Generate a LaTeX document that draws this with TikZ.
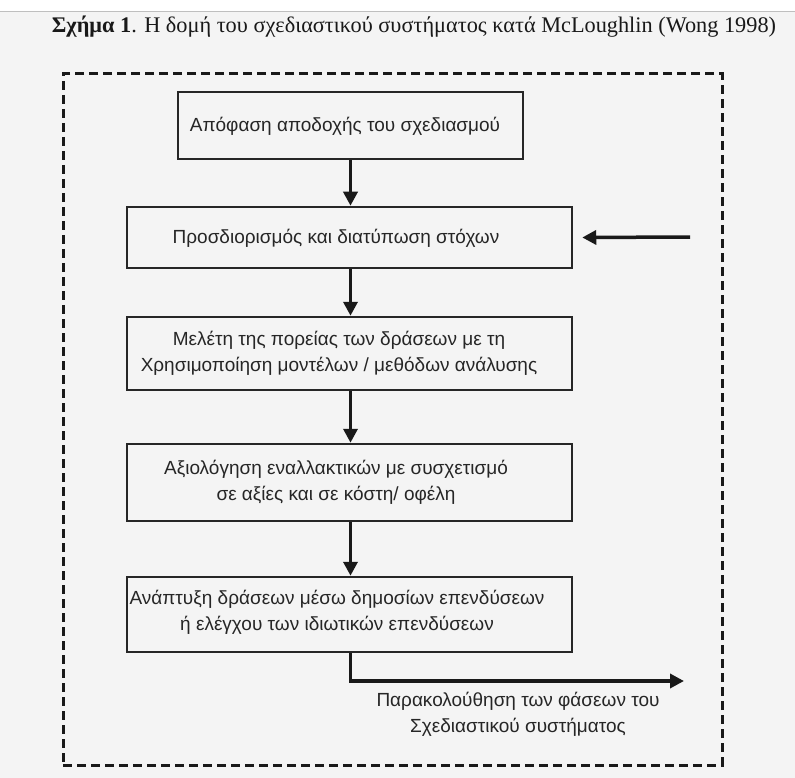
\documentclass[tikz,border=0pt]{standalone}
\usepackage{fontspec}
\setmainfont{Liberation Serif}
\newfontfamily\boxfont{Liberation Sans}
\usetikzlibrary{arrows.meta,calc}
\definecolor{bg}{HTML}{F4F4F4}
\tikzset{
  stepbox/.style={draw=black!85, line width=2.5pt, rectangle, minimum width=445pt, inner sep=0pt},
  boxtext/.style={font=\boxfont\fontsize{19}{26}\selectfont, align=center, text=black!85, inner sep=0pt},
  arr/.style={line width=3.5pt, draw=black!90, -{Triangle[length=14pt,width=14pt]}},
  frame/.style={draw=black!90, line width=3pt, dash pattern=on 9pt off 5pt, rectangle, inner sep=0pt}
}
\begin{document}
\begin{tikzpicture}[x=1pt,y=-1pt]
\useasboundingbox[fill=bg] (0,0) rectangle (795,778);
\fill[white] (0,0) rectangle (795,11);
\draw[black!25, line width=1pt] (0,11.5) -- (795,11.5);
\node[font=\fontsize{22.3}{25}\selectfont, text=black!90] (title) at (414,27) {\textbf{Σχήμα 1}. Η δομή του σχεδιαστικού συστήματος κατά McLoughlin (Wong 1998)};
\node[frame, minimum width=659pt, minimum height=691pt] (fr) at (392.5,419.5) {};
\node[stepbox, minimum width=345pt, minimum height=67pt] (b1) at (350.5,125.5) {};
\node[stepbox, minimum height=61pt] (b2) at (349.5,237.5) {};
\node[stepbox, minimum height=73pt] (b3) at (349.5,353.5) {};
\node[stepbox, minimum height=77pt] (b4) at (349.5,482.5) {};
\node[stepbox, minimum height=75pt] (b5) at (349.5,614.5) {};
\node[boxtext] (t1) at (345,126) {Απόφαση αποδοχής του σχεδιασμού};
\node[boxtext] (t2) at (336,238) {Προσδιορισμός και διατύπωση στόχων};
\node[boxtext] (t3) at (339,353) {Μελέτη της πορείας των δράσεων με τη\\Χρησιμοποίηση μοντέλων / μεθόδων ανάλυσης};
\node[boxtext] (t4) at (336,482) {Αξιολόγηση εναλλακτικών με συσχετισμό\\σε αξίες και σε κόστη/ οφέλη};
\node[boxtext] (t5) at (337,612) {Ανάπτυξη δράσεων μέσω δημοσίων επενδύσεων\\ή ελέγχου των ιδιωτικών επενδύσεων};
\coordinate (src) at (690,237);
\coordinate (out) at (684,681);
\node[boxtext] (t6) at (518,714) {Παρακολούθηση των φάσεων του\\Σχεδιαστικού συστήματος};
\draw[arr] (b1.south) -- (b1.south |- b2.north);
\draw[arr] (b1.south |- b2.south) -- (b1.south |- b3.north);
\draw[arr] (b1.south |- b3.south) -- (b1.south |- b4.north);
\draw[arr] (b1.south |- b4.south) -- (b1.south |- b5.north);
\draw[arr] (src) -- ([xshift=9pt]b2.east);
\draw[arr] (b1.south |- b5.south) |- (out);
\end{tikzpicture}
\end{document}
